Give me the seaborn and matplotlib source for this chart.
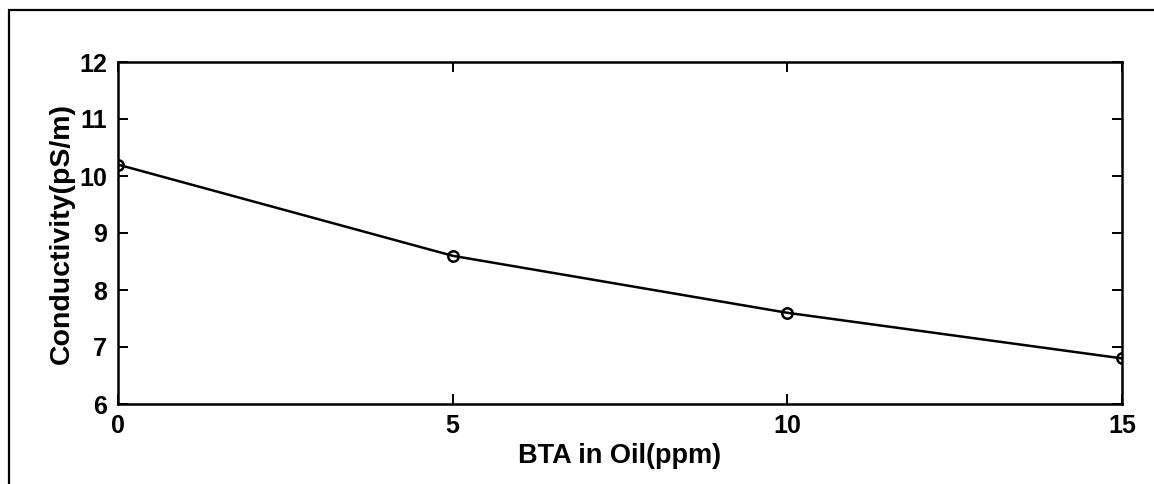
import matplotlib
matplotlib.use("Agg")
import matplotlib.pyplot as plt
from matplotlib.patches import Rectangle
import seaborn as sns
import pandas as pd

# BTA concentration in oil (ppm) and measured conductivity (pS/m)
bta_ppm = [0, 5, 10, 15]
conductivity = [10.2, 8.6, 7.6, 6.8]
x_ticks = [0, 5, 10, 15]
y_ticks = [6, 7, 8, 9, 10, 11, 12]

sns.set_style("ticks")
plt.rcParams["font.family"] = ["Liberation Sans", "DejaVu Sans"]
plt.rcParams["font.weight"] = "bold"
plt.rcParams["text.color"] = "black"
plt.rcParams["axes.labelcolor"] = "black"

fig = plt.figure(figsize=(11.54, 4.84), dpi=100)
fig.patch.set_facecolor("white")
ax = fig.add_axes([118 / 1154, 1 - 404 / 484, (1122 - 118) / 1154, (404 - 62) / 484])

df = pd.DataFrame({"bta": bta_ppm, "cond": conductivity})
sns.lineplot(data=df, x="bta", y="cond", ax=ax, color="black", linewidth=1.8,
             marker="o", markersize=7.5, markerfacecolor="none",
             markeredgecolor="black", markeredgewidth=1.8)

ax.set_xlim(0, 15)
ax.set_ylim(6, 12)
ax.set_xticks(x_ticks)
ax.set_yticks(y_ticks)
ax.set_xticklabels([str(v) for v in x_ticks])
ax.set_yticklabels([str(v) for v in y_ticks])
ax.tick_params(direction="in", length=7, width=1.4, top=True, right=True,
               labelsize=18, colors="black")
ax.tick_params(axis="x", pad=7)
ax.tick_params(axis="y", pad=8)
for lbl in ax.get_xticklabels() + ax.get_yticklabels():
    lbl.set_fontweight("bold")
for sp in ax.spines.values():
    sp.set_visible(True)
    sp.set_linewidth(1.8)
    sp.set_color("black")

ax.set_xlabel("BTA in Oil(ppm)", fontsize=19.5, fontweight="bold", labelpad=4,
              color="black")
ax.set_ylabel("Conductivity(pS/m)", fontsize=20.5, fontweight="bold", labelpad=3,
              color="black")

# outer frame around the figure
frame = Rectangle((9 / 1154, -0.1), 1.2, 1.1 - 10 / 484, transform=fig.transFigure,
                  fill=False, edgecolor="black", linewidth=1.6, clip_on=False)
fig.add_artist(frame)

fig.savefig("out.png", dpi=100, facecolor="white")
